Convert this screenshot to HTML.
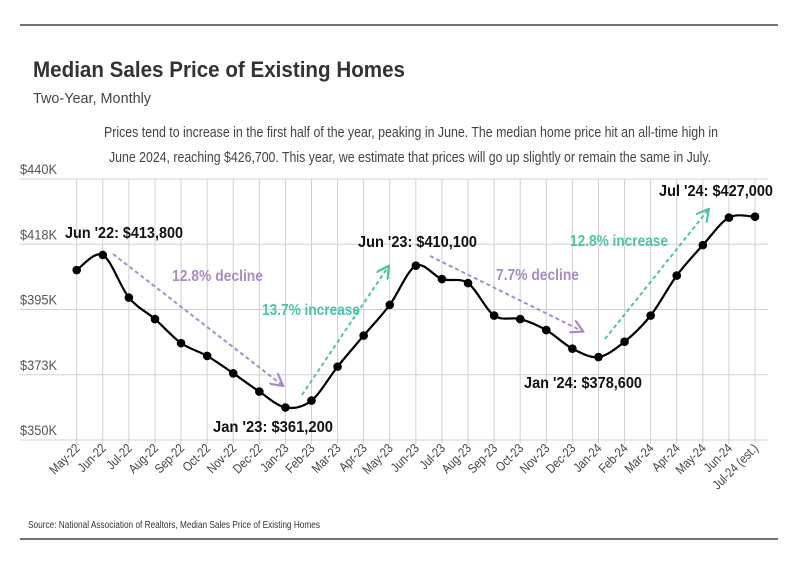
<!DOCTYPE html>
<html><head><meta charset="utf-8"><style>
html,body{margin:0;padding:0;background:#fff;}
svg{display:block;font-family:"Liberation Sans Narrow","Liberation Sans",sans-serif;}
</style></head><body>
<svg id="chart" width="799" height="575" viewBox="0 0 799 575">
<defs>
<marker id="arP" viewBox="0 0 10 10" refX="8" refY="5" markerWidth="7" markerHeight="7" orient="auto"><path d="M0,0 L9,5 L0,10" fill="none" stroke="#a98bc4" stroke-width="1.6"/></marker>
<marker id="arG" viewBox="0 0 10 10" refX="8" refY="5" markerWidth="7" markerHeight="7" orient="auto"><path d="M0,0 L9,5 L0,10" fill="none" stroke="#4fc3a8" stroke-width="1.6"/></marker>
</defs>
<line x1="20" y1="25" x2="778" y2="25" stroke="#222" stroke-width="1.2"/>
<text x="33" y="77" font-size="22" font-weight="bold" fill="#333" textLength="372" lengthAdjust="spacingAndGlyphs">Median Sales Price of Existing Homes</text>
<text x="33" y="103" font-size="15" fill="#444" textLength="118" lengthAdjust="spacingAndGlyphs">Two-Year, Monthly</text>
<text x="104" y="137" font-size="15" fill="#444" textLength="614" lengthAdjust="spacingAndGlyphs">Prices tend to increase in the first half of the year, peaking in June. The median home price hit an all-time high in</text>
<text x="109" y="162" font-size="15" fill="#444" textLength="602" lengthAdjust="spacingAndGlyphs">June 2024, reaching $426,700. This year, we estimate that prices will go up slightly or remain the same in July.</text>
<g id="grid"></g><g id="axes"></g><g id="series"></g>
<g>
<line x1="113" y1="254" x2="282" y2="385" stroke="#a98bc4" stroke-width="2" stroke-dasharray="4,3" marker-end="url(#arP)"/>
<text x="172" y="281" font-size="16" font-weight="bold" fill="#a98bc4" textLength="91" lengthAdjust="spacingAndGlyphs">12.8% decline</text>
<line x1="302" y1="395" x2="388" y2="267" stroke="#4fc3a8" stroke-width="2" stroke-dasharray="4,3" marker-end="url(#arG)"/>
<text x="262" y="315" font-size="16" font-weight="bold" fill="#4fc3a8" textLength="98" lengthAdjust="spacingAndGlyphs">13.7% increase</text>
<line x1="430" y1="256" x2="582" y2="331" stroke="#a98bc4" stroke-width="2" stroke-dasharray="4,3" marker-end="url(#arP)"/>
<text x="496" y="280" font-size="16" font-weight="bold" fill="#a98bc4" textLength="83" lengthAdjust="spacingAndGlyphs">7.7% decline</text>
<line x1="605" y1="339" x2="708" y2="210" stroke="#4fc3a8" stroke-width="2" stroke-dasharray="4,3" marker-end="url(#arG)"/>
<text x="570" y="246" font-size="16" font-weight="bold" fill="#4fc3a8" textLength="98" lengthAdjust="spacingAndGlyphs">12.8% increase</text>
<text x="65" y="238" font-size="16" font-weight="bold" fill="#111" textLength="118" lengthAdjust="spacingAndGlyphs">Jun '22: $413,800</text>
<text x="213" y="432" font-size="16" font-weight="bold" fill="#111" textLength="120" lengthAdjust="spacingAndGlyphs">Jan '23: $361,200</text>
<text x="358" y="247" font-size="16" font-weight="bold" fill="#111" textLength="119" lengthAdjust="spacingAndGlyphs">Jun '23: $410,100</text>
<text x="524" y="388" font-size="16" font-weight="bold" fill="#111" textLength="118" lengthAdjust="spacingAndGlyphs">Jan '24: $378,600</text>
<text x="659" y="196" font-size="16" font-weight="bold" fill="#111" textLength="114" lengthAdjust="spacingAndGlyphs">Jul '24: $427,000</text>
</g>
<text x="28" y="528" font-size="10" fill="#333" textLength="292" lengthAdjust="spacingAndGlyphs">Source:  National Association of Realtors, Median Sales Price of Existing Homes</text>
<line x1="20" y1="539" x2="778" y2="539" stroke="#222" stroke-width="1.2"/>
</svg>
<script>
const categories=["May-22","Jun-22","Jul-22","Aug-22","Sep-22","Oct-22","Nov-22","Dec-22","Jan-23","Feb-23","Mar-23","Apr-23","May-23","Jun-23","Jul-23","Aug-23","Sep-23","Oct-23","Nov-23","Dec-23","Jan-24","Feb-24","Mar-24","Apr-24","May-24","Jun-24","Jul-24 (est.)"];
const prices=[408.6,413.8,399.1,391.7,383.4,379.0,373.0,366.7,361.2,363.6,375.3,386.0,396.6,410.1,405.5,404.1,392.9,391.7,387.9,381.5,378.6,383.9,392.9,406.7,417.2,426.7,427.0];
const yTicks=[350,372.5,395,417.5,440];
const yTickLabels=["$350K","$373K","$395K","$418K","$440K"];
const NS="http://www.w3.org/2000/svg";
const x0=76.7,x1=755,yMin=350,yMax=440,yTop=179,yBot=440;
const xs=i=>x0+(x1-x0)*i/(categories.length-1);
const ys=v=>yBot-(v-yMin)/(yMax-yMin)*(yBot-yTop);
function mk(t,a,p){const e=document.createElementNS(NS,t);for(const k in a)e.setAttribute(k,a[k]);p.appendChild(e);return e;}
const grid=document.getElementById('grid'),axes=document.getElementById('axes'),ser=document.getElementById('series');
yTicks.forEach((v,i)=>{
  const l=mk('line',{x1:20,x2:768,y1:ys(v),y2:ys(v),stroke:'#d0d0d0','stroke-width':1},grid);
  
  
  const t=mk('text',{x:20,y:ys(v)-5,'font-size':14,fill:'#555',textLength:37,lengthAdjust:'spacingAndGlyphs'},axes);
  t.textContent=yTickLabels[i];
  
  
});
categories.forEach((c,i)=>{
  const x=xs(i);
  const l=mk('line',{x1:x,x2:x,y1:yTop,y2:yBot+4,stroke:'#d0d0d0','stroke-width':1},grid);
  
  
  const g=mk('g',{transform:`translate(${x+4} ${yBot+9}) rotate(-45) scale(0.85 1)`},axes);
  const t=mk('text',{x:0,y:0,'font-size':13,fill:'#444','text-anchor':'end'},g);
  t.textContent=c;
  
  
});
const pts=prices.map((v,i)=>[xs(i),ys(v)]);
let d=`M${pts[0][0]},${pts[0][1]}`;
for(let i=0;i<pts.length-1;i++){
  const p0=pts[i-1]||pts[i],p1=pts[i],p2=pts[i+1],p3=pts[i+2]||p2,k=0.16;
  d+=` C${p1[0]+(p2[0]-p0[0])*k},${p1[1]+(p2[1]-p0[1])*k} ${p2[0]-(p3[0]-p1[0])*k},${p2[1]-(p3[1]-p1[1])*k} ${p2[0]},${p2[1]}`;
}
const path=mk('path',{d:d,fill:'none',stroke:'#000','stroke-width':2.2},ser);


pts.forEach(p=>{
  const c=mk('circle',{cx:p[0],cy:p[1],r:4.3,fill:'#000'},ser);
  
  
});
</script>
</body></html>
